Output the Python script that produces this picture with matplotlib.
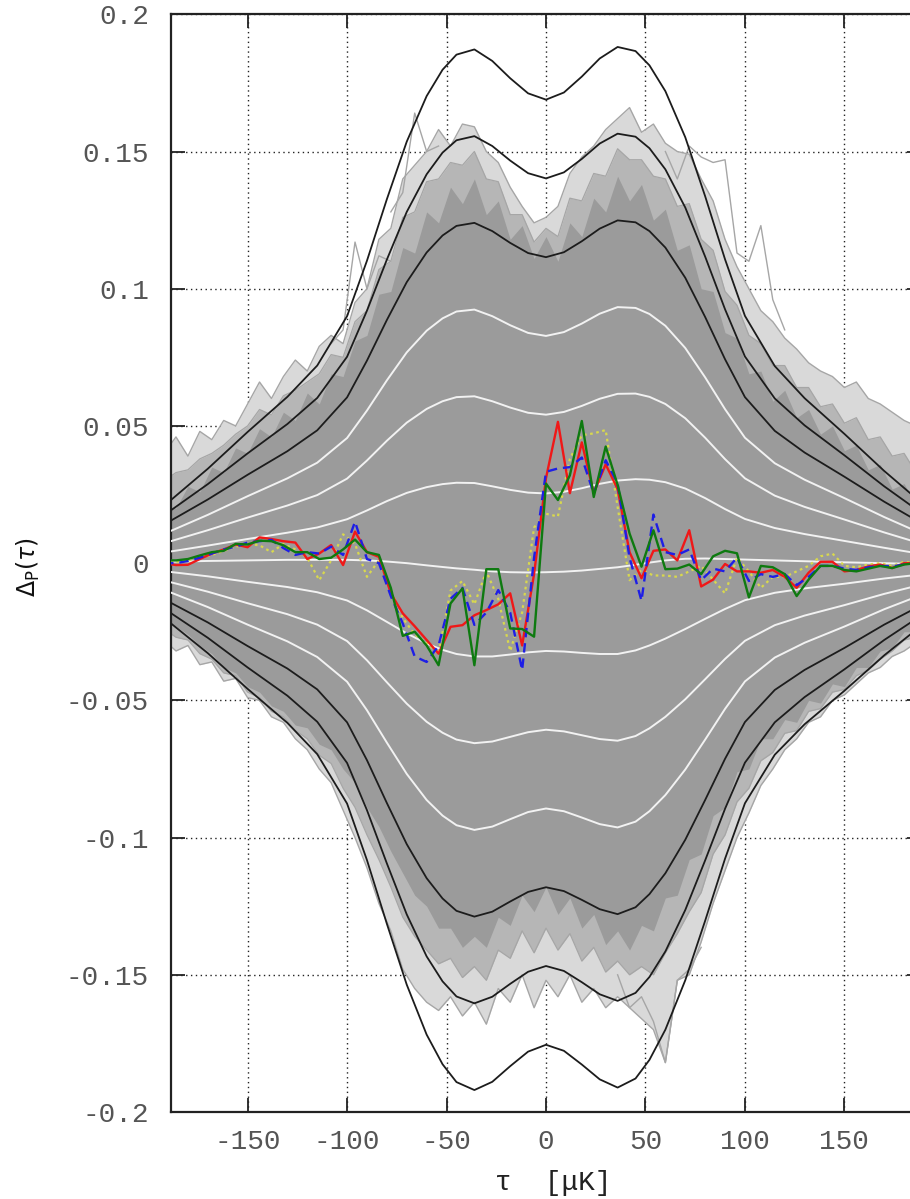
import matplotlib
matplotlib.use('Agg')
import matplotlib.pyplot as plt

# ---------------- percentile curves ----------------
tau_c = [-190, -170, -150, -130, -115, -100, -90, -80, -70, -60, -52, -45, -36, -27, -18, -9, 0,
         9, 18, 27, 36, 45, 52, 60, 70, 80, 90, 100, 115, 130, 150, 170, 190]

center = [0.0005, 0.0008, 0.0010, 0.0012, 0.0012, 0.0012, 0.0010, 0.0006, 0.0000, -0.0008, -0.0014,
          -0.0019, -0.0024, -0.0030, -0.0033, -0.0034, -0.0033, -0.0031, -0.0027, -0.0021, -0.0015,
          -0.0006, 0.0002, 0.0010, 0.0016, 0.0017, 0.0015, 0.0013, 0.0010, 0.0007, 0.0003, 0.0000, -0.0004]

up1 = [0.0041, 0.0064, 0.0088, 0.0111, 0.0130, 0.0160, 0.0192, 0.0226, 0.0256, 0.0277, 0.0288, 0.0293,
       0.0292, 0.0280, 0.0267, 0.0257, 0.0254, 0.0260, 0.0273, 0.0289, 0.0301, 0.0306, 0.0304, 0.0295,
       0.0272, 0.0237, 0.0197, 0.0161, 0.0128, 0.0106, 0.0081, 0.0056, 0.0032]
up2 = [0.0077, 0.0120, 0.0166, 0.0210, 0.0248, 0.0308, 0.0374, 0.0446, 0.0512, 0.0562, 0.0590, 0.0605,
       0.0608, 0.0590, 0.0567, 0.0548, 0.0541, 0.0551, 0.0573, 0.0599, 0.0617, 0.0618, 0.0606, 0.0580,
       0.0528, 0.0457, 0.0379, 0.0309, 0.0246, 0.0205, 0.0159, 0.0112, 0.0068]
up3 = [0.0113, 0.0176, 0.0244, 0.0309, 0.0366, 0.0456, 0.0556, 0.0666, 0.0768, 0.0847, 0.0892, 0.0917,
       0.0924, 0.0900, 0.0867, 0.0839, 0.0828, 0.0842, 0.0873, 0.0909, 0.0933, 0.0930, 0.0908, 0.0865,
       0.0784, 0.0677, 0.0561, 0.0457, 0.0364, 0.0304, 0.0237, 0.0168, 0.0104]
up4 = [0.0149, 0.0232, 0.0322, 0.0408, 0.0484, 0.0604, 0.0738, 0.0886, 0.1024, 0.1132, 0.1194, 0.1229,
       0.1240, 0.1210, 0.1167, 0.1130, 0.1115, 0.1133, 0.1173, 0.1219, 0.1249, 0.1242, 0.1210, 0.1150,
       0.1040, 0.0897, 0.0743, 0.0605, 0.0482, 0.0403, 0.0315, 0.0224, 0.0140]
up5 = [0.0185, 0.0288, 0.0400, 0.0507, 0.0602, 0.0752, 0.0920, 0.1106, 0.1280, 0.1417, 0.1496, 0.1541,
       0.1556, 0.1520, 0.1467, 0.1421, 0.1402, 0.1424, 0.1473, 0.1529, 0.1565, 0.1554, 0.1512, 0.1435,
       0.1296, 0.1117, 0.0925, 0.0753, 0.0600, 0.0502, 0.0393, 0.0280, 0.0176]
up6 = [0.0221, 0.0344, 0.0478, 0.0606, 0.0720, 0.0900, 0.1102, 0.1326, 0.1536, 0.1702, 0.1798, 0.1853,
       0.1872, 0.1830, 0.1767, 0.1712, 0.1689, 0.1715, 0.1773, 0.1839, 0.1881, 0.1866, 0.1814, 0.1720,
       0.1552, 0.1337, 0.1107, 0.0901, 0.0718, 0.0601, 0.0471, 0.0336, 0.0212]
lo1 = [-0.0031, -0.0048, -0.0068, -0.0087, -0.0106, -0.0136, -0.0172, -0.0214, -0.0256, -0.0293, -0.0316,
       -0.0331, -0.0340, -0.0340, -0.0333, -0.0325, -0.0320, -0.0322, -0.0327, -0.0331, -0.0331, -0.0318,
       -0.0300, -0.0275, -0.0240, -0.0203, -0.0167, -0.0135, -0.0108, -0.0092, -0.0075, -0.0056, -0.0040]
lo2 = [-0.0067, -0.0104, -0.0146, -0.0186, -0.0224, -0.0284, -0.0354, -0.0434, -0.0512, -0.0578, -0.0618,
       -0.0643, -0.0656, -0.0650, -0.0633, -0.0616, -0.0607, -0.0613, -0.0627, -0.0641, -0.0647, -0.0630,
       -0.0602, -0.0560, -0.0496, -0.0423, -0.0349, -0.0283, -0.0226, -0.0191, -0.0153, -0.0112, -0.0076]
lo3 = [-0.0103, -0.0160, -0.0224, -0.0285, -0.0342, -0.0432, -0.0536, -0.0654, -0.0768, -0.0863, -0.0920,
       -0.0955, -0.0972, -0.0960, -0.0933, -0.0907, -0.0894, -0.0904, -0.0927, -0.0951, -0.0963, -0.0942,
       -0.0904, -0.0845, -0.0752, -0.0643, -0.0531, -0.0431, -0.0344, -0.0290, -0.0231, -0.0168, -0.0112]
lo4 = [-0.0139, -0.0216, -0.0302, -0.0384, -0.0460, -0.0580, -0.0718, -0.0874, -0.1024, -0.1148, -0.1222,
       -0.1267, -0.1288, -0.1270, -0.1233, -0.1198, -0.1181, -0.1195, -0.1227, -0.1261, -0.1279, -0.1254,
       -0.1206, -0.1130, -0.1008, -0.0863, -0.0713, -0.0579, -0.0462, -0.0389, -0.0309, -0.0224, -0.0148]
lo5 = [-0.0175, -0.0272, -0.0380, -0.0483, -0.0578, -0.0728, -0.0900, -0.1094, -0.1280, -0.1433, -0.1524,
       -0.1579, -0.1604, -0.1580, -0.1533, -0.1489, -0.1468, -0.1486, -0.1527, -0.1571, -0.1595, -0.1566,
       -0.1508, -0.1415, -0.1264, -0.1083, -0.0895, -0.0727, -0.0580, -0.0488, -0.0387, -0.0280, -0.0184]
lo6 = [-0.0211, -0.0328, -0.0458, -0.0582, -0.0696, -0.0876, -0.1082, -0.1314, -0.1536, -0.1718, -0.1826,
       -0.1891, -0.1920, -0.1890, -0.1833, -0.1780, -0.1755, -0.1777, -0.1827, -0.1881, -0.1911, -0.1878,
       -0.1810, -0.1700, -0.1520, -0.1303, -0.1077, -0.0875, -0.0698, -0.0587, -0.0465, -0.0336, -0.0220]

# ---------------- simulation band & observed curves (6 uK bins) ----------------
tau6 = [-192, -186, -180, -174, -168, -162, -156, -150, -144, -138, -132, -126, -120, -114, -108, -102,
        -96, -90, -84, -78, -72, -66, -60, -54, -48, -42, -36, -30, -24, -18, -12, -6, 0,
        6, 12, 18, 24, 30, 36, 42, 48, 54, 60, 66, 72, 78, 84, 90, 96, 102, 108, 114, 120, 126,
        132, 138, 144, 150, 156, 162, 168, 174, 180, 186, 192]

dense_hi = [0.021, 0.020, 0.028, 0.026, 0.035, 0.033, 0.042, 0.040, 0.049, 0.046, 0.055, 0.052, 0.062,
            0.058, 0.069, 0.068, 0.081, 0.083, 0.098, 0.099, 0.115, 0.113, 0.128, 0.124, 0.137, 0.131,
            0.140, 0.127, 0.132, 0.118, 0.123, 0.111, 0.119, 0.110, 0.124, 0.119, 0.133, 0.128, 0.141,
            0.132, 0.138, 0.125, 0.129, 0.114, 0.116, 0.100, 0.099, 0.084, 0.082, 0.069, 0.070, 0.059,
            0.063, 0.053, 0.056, 0.047, 0.050, 0.041, 0.043, 0.034, 0.036, 0.027, 0.029, 0.021, 0.022]
dense_lo = [-0.020, -0.023, -0.026, -0.030, -0.033, -0.038, -0.040, -0.045, -0.047, -0.052, -0.054, -0.059,
            -0.060, -0.066, -0.068, -0.075, -0.080, -0.089, -0.096, -0.105, -0.113, -0.121, -0.125, -0.133,
            -0.133, -0.140, -0.136, -0.140, -0.129, -0.132, -0.121, -0.127, -0.118, -0.128, -0.122, -0.133,
            -0.128, -0.139, -0.134, -0.141, -0.132, -0.134, -0.122, -0.121, -0.108, -0.106, -0.092, -0.089,
            -0.076, -0.075, -0.064, -0.064, -0.057, -0.058, -0.050, -0.051, -0.044, -0.045, -0.038, -0.038,
            -0.032, -0.031, -0.025, -0.025, -0.020]
mid_hi = [0.030, 0.033, 0.034, 0.038, 0.040, 0.043, 0.047, 0.050, 0.056, 0.054, 0.061, 0.063, 0.066,
          0.069, 0.076, 0.075, 0.088, 0.092, 0.107, 0.110, 0.126, 0.128, 0.139, 0.140, 0.146, 0.145,
          0.150, 0.140, 0.139, 0.127, 0.127, 0.117, 0.122, 0.119, 0.133, 0.132, 0.142, 0.141, 0.151,
          0.147, 0.147, 0.141, 0.140, 0.130, 0.131, 0.118, 0.114, 0.099, 0.094, 0.083, 0.080, 0.072,
          0.072, 0.064, 0.064, 0.057, 0.058, 0.051, 0.053, 0.045, 0.046, 0.039, 0.040, 0.033, 0.034]
mid_lo = [-0.024, -0.027, -0.028, -0.033, -0.035, -0.040, -0.041, -0.047, -0.049, -0.054, -0.056, -0.061,
          -0.064, -0.070, -0.073, -0.082, -0.089, -0.099, -0.108, -0.118, -0.129, -0.136, -0.141, -0.146,
          -0.144, -0.151, -0.147, -0.152, -0.141, -0.144, -0.134, -0.142, -0.133, -0.141, -0.135, -0.145,
          -0.140, -0.149, -0.145, -0.150, -0.147, -0.150, -0.142, -0.135, -0.127, -0.120, -0.106, -0.099,
          -0.087, -0.082, -0.072, -0.069, -0.062, -0.061, -0.054, -0.053, -0.047, -0.046, -0.041, -0.039,
          -0.035, -0.032, -0.028, -0.027, -0.023]
fringe_hi = [0.040, 0.046, 0.039, 0.048, 0.045, 0.052, 0.050, 0.058, 0.066, 0.060, 0.068, 0.074, 0.070,
             0.079, 0.083, 0.080, 0.095, 0.100, 0.118, 0.122, 0.140, 0.145, 0.150, 0.158, 0.152, 0.160,
             0.159, 0.150, 0.146, 0.137, 0.130, 0.124, 0.126, 0.130, 0.142, 0.148, 0.152, 0.158, 0.162,
             0.166, 0.157, 0.160, 0.153, 0.150, 0.149, 0.140, 0.132, 0.118, 0.108, 0.100, 0.092, 0.088,
             0.082, 0.078, 0.073, 0.070, 0.068, 0.064, 0.066, 0.060, 0.058, 0.055, 0.052, 0.050, 0.048]
fringe_lo = [-0.028, -0.032, -0.030, -0.037, -0.036, -0.043, -0.042, -0.049, -0.050, -0.056, -0.058, -0.064,
             -0.068, -0.075, -0.080, -0.090, -0.100, -0.111, -0.124, -0.134, -0.148, -0.155, -0.160, -0.163,
             -0.158, -0.165, -0.160, -0.168, -0.155, -0.160, -0.150, -0.162, -0.152, -0.158, -0.150, -0.160,
             -0.155, -0.162, -0.158, -0.162, -0.166, -0.170, -0.182, -0.152, -0.150, -0.138, -0.124, -0.112,
             -0.100, -0.091, -0.081, -0.075, -0.068, -0.064, -0.058, -0.056, -0.050, -0.048, -0.044, -0.040,
             -0.038, -0.034, -0.032, -0.029, -0.027]

red = [0.0000, -0.0007, -0.0006, 0.0015, 0.0035, 0.0050, 0.0068, 0.0058, 0.0094, 0.0088, 0.0080, 0.0075,
       0.0015, 0.0035, 0.0066, -0.0007, 0.0115, 0.0040, 0.0023, -0.0110, -0.0183, -0.0230, -0.0280, -0.0330,
       -0.0232, -0.0226, -0.0190, -0.0171, -0.0150, -0.0110, -0.0300, -0.0040, 0.0310, 0.0515, 0.0255,
       0.0440, 0.0255, 0.0360, 0.0270, 0.0040, -0.0055, 0.0045, 0.0050, 0.0010, 0.0120, -0.0085, -0.0060,
       -0.0003, -0.0030, -0.0030, -0.0035, -0.0025, -0.0050, -0.0090, -0.0035, 0.0005, 0.0005, -0.0030,
       -0.0025, -0.0012, -0.0005, -0.0018, 0.0000, 0.0000, 0.0000]
blue = [0.0000, 0.0000, 0.0008, 0.0020, 0.0035, 0.0050, 0.0060, 0.0075, 0.0080, 0.0085, 0.0055, 0.0030,
        0.0040, 0.0035, 0.0060, 0.0030, 0.0151, 0.0015, 0.0000, -0.0120, -0.0220, -0.0340, -0.0360, -0.0300,
        -0.0130, -0.0090, -0.0225, -0.0180, -0.0098, -0.0180, -0.0390, 0.0020, 0.0333, 0.0345, 0.0350,
        0.0385, 0.0254, 0.0375, 0.0290, 0.0020, -0.0137, 0.0177, 0.0040, 0.0030, 0.0050, -0.0062, -0.0020,
        -0.0030, 0.0020, -0.0065, -0.0040, -0.0050, -0.0040, -0.0080, -0.0050, -0.0010, -0.0010, -0.0020,
        -0.0025, -0.0015, -0.0010, -0.0012, -0.0005, 0.0000, 0.0000]
green = [0.0010, 0.0010, 0.0015, 0.0028, 0.0040, 0.0045, 0.0070, 0.0068, 0.0082, 0.0080, 0.0065, 0.0040,
         0.0040, 0.0015, 0.0020, 0.0050, 0.0086, 0.0040, 0.0030, -0.0090, -0.0265, -0.0250, -0.0300, -0.0372,
         -0.0147, -0.0092, -0.0372, -0.0022, -0.0022, -0.0238, -0.0240, -0.0268, 0.0290, 0.0230, 0.0320,
         0.0518, 0.0241, 0.0425, 0.0285, 0.0108, -0.0013, 0.0120, -0.0022, -0.0020, -0.0005, -0.0040, 0.0025,
         0.0045, 0.0036, -0.0125, -0.0010, -0.0015, -0.0040, -0.0120, -0.0060, -0.0010, -0.0010, -0.0025,
         -0.0030, -0.0020, -0.0010, -0.0018, -0.0005, 0.0000, 0.0000]
yellow = [0.0000, 0.0005, 0.0010, 0.0020, 0.0030, 0.0045, 0.0060, 0.0070, 0.0065, 0.0040, 0.0070, 0.0050,
          0.0020, -0.0062, 0.0010, 0.0105, 0.0070, -0.0050, 0.0010, -0.0100, -0.0200, -0.0260, -0.0290,
          -0.0330, -0.0100, -0.0065, -0.0150, -0.0030, -0.0130, -0.0320, -0.0180, 0.0130, 0.0180, 0.0170,
          0.0380, 0.0466, 0.0473, 0.0485, 0.0205, -0.0062, -0.0025, -0.0045, -0.0045, -0.0050, -0.0030,
          -0.0010, -0.0060, -0.0110, 0.0020, -0.0030, -0.0090, -0.0050, -0.0050, -0.0030, -0.0010, 0.0025,
          0.0035, -0.0010, -0.0015, -0.0005, 0.0000, -0.0010, 0.0005, 0.0000, 0.0000]

# a few isolated outlier simulations
out1_tau = [60, 66, 72, 78, 84, 90, 96, 102, 108, 114, 120]
out1_val = [0.150, 0.140, 0.152, 0.148, 0.146, 0.147, 0.113, 0.110, 0.123, 0.096, 0.085]
out2_tau = [36, 42, 48, 54, 60, 66, 72, 78]
out2_val = [-0.150, -0.162, -0.158, -0.167, -0.182, -0.152, -0.148, -0.140]
out3_tau = [-108, -102, -96, -90, -84, -78]
out3_val = [0.080, 0.085, 0.117, 0.100, 0.112, 0.110]
out4_tau = [-78, -72, -66, -60, -54]
out4_val = [0.128, 0.135, 0.164, 0.150, 0.152]

xticks = [-150, -100, -50, 0, 50, 100, 150]
xticklabels = ['-150', '-100', '-50', '0', '50', '100', '150']
yticks = [-0.2, -0.15, -0.1, -0.05, 0, 0.05, 0.1, 0.15, 0.2]
yticklabels = ['-0.2', '-0.15', '-0.1', '-0.05', '0', '0.05', '0.1', '0.15', '0.2']

# ---------------- drawing ----------------
fig = plt.figure(figsize=(9.10, 11.99), dpi=100)
ax = fig.add_axes([171 / 910, 1 - 1112 / 1199, 750 / 910, (1112 - 14.3) / 1199])
ax.set_xlim(-188.5, 188.5)
ax.set_ylim(-0.2, 0.2)

band_outer = '#d9d9d9'
band_mid = '#b6b6b6'
band_line = '#a6a6a6'
band_dense = '#9b9b9b'

ax.fill_between(tau6, fringe_lo, fringe_hi, color=band_outer, lw=0, zorder=1)
ax.plot(tau6, fringe_hi, color=band_line, lw=1.0, zorder=1.1)
ax.plot(tau6, fringe_lo, color=band_line, lw=1.0, zorder=1.1)
for tt, vv in [(out1_tau, out1_val), (out2_tau, out2_val), (out3_tau, out3_val), (out4_tau, out4_val)]:
    ax.plot(tt, vv, color=band_line, lw=1.0, zorder=1.1)
ax.fill_between(tau6, mid_lo, mid_hi, color=band_mid, lw=0, zorder=1.2)
ax.plot(tau6, mid_hi, color=band_line, lw=0.9, zorder=1.3)
ax.plot(tau6, mid_lo, color=band_line, lw=0.9, zorder=1.3)
ax.fill_between(tau6, dense_lo, dense_hi, color=band_dense, lw=0, zorder=2)

for line in [up1, up2, up3, center, lo1, lo2, lo3]:
    ax.plot(tau_c, line, color='#f2f2f2', lw=1.4, zorder=3)
for line in [up4, up5, up6, lo4, lo5, lo6]:
    ax.plot(tau_c, line, color='#1c1c1c', lw=1.3, zorder=3)

ax.plot(tau6, yellow, color='#d8d84e', lw=1.6, ls=(0, (1.2, 1.6)), zorder=4)
ax.plot(tau6, red, color='#f01818', lw=1.7, zorder=5)
ax.plot(tau6, blue, color='#1e1ee6', lw=1.7, ls=(0, (4, 2.5)), zorder=6)
ax.plot(tau6, green, color='#0e7a10', lw=1.7, zorder=7)

ax.set_axisbelow(True)
ax.grid(True, color='#222222', lw=1.0, ls=(0, (1, 2.5)))

mono = ['Liberation Mono', 'DejaVu Sans Mono']
ax.set_xticks(xticks)
ax.set_xticklabels(xticklabels, family=mono, fontsize=20, color='#555555')
ax.set_yticks(yticks)
ax.set_yticklabels(yticklabels, family=mono, fontsize=20, color='#555555')
ax.tick_params(direction='in', length=10, width=1.3, top=True, right=True, color='#222222')
ax.tick_params(axis='x', pad=12)
ax.tick_params(axis='y', pad=16)
for sp in ax.spines.values():
    sp.set_linewidth(1.6)
    sp.set_color('#222222')

fig.text(553 / 910, 1 - 1183 / 1199, '\u03c4  [\u03bcK]', family=mono, fontsize=20, color='#222222',
         ha='center', va='center')
fig.text(28 / 910, 1 - 567 / 1199, r'$\Delta_{\mathrm{P}}(\tau)$', fontsize=17, color='#111111',
         rotation=90, ha='center', va='center')

fig.savefig('out.png', dpi=100)
